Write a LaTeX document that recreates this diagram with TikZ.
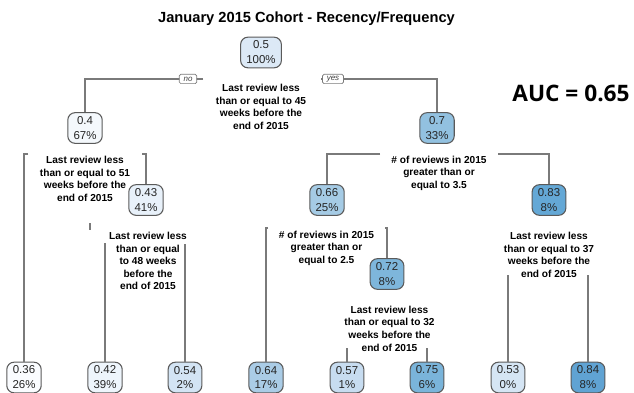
\documentclass[tikz,border=0pt]{standalone}
\usepackage{fontspec}
\setmainfont{Liberation Sans}
\newfontfamily\aucfont{Open Sans}
\definecolor{cR}{HTML}{DCE9F6}
\definecolor{cA}{HTML}{F4F8FC}
\definecolor{cB}{HTML}{92C1E0}
\definecolor{cC}{HTML}{E8F1FA}
\definecolor{cD}{HTML}{A5CBE5}
\definecolor{cE}{HTML}{64A8D6}
\definecolor{cF}{HTML}{7EB6DB}
\definecolor{cL1}{HTML}{FAFCFF}
\definecolor{cL2}{HTML}{EEF5FC}
\definecolor{cL3}{HTML}{D3E4F4}
\definecolor{cL4}{HTML}{AACCE6}
\definecolor{cL5}{HTML}{C7DCF0}
\definecolor{cL6}{HTML}{7AB4DA}
\definecolor{cL7}{HTML}{D5E5F4}
\definecolor{cL8}{HTML}{60A3D3}
\definecolor{edgegray}{HTML}{5A5A5A}
\definecolor{linegray}{HTML}{7A7A7A}
\tikzset{
  treenode/.style={draw=edgegray, line width=0.8pt, rounded corners=5.5pt,
    align=center, font=\fontsize{8.6}{11.2}\selectfont, text=black!85,
    inner xsep=4.3pt, inner ysep=1pt, minimum height=23pt},
  splitlabel/.style={align=center, font=\fontsize{7.6}{9.45}\selectfont\bfseries, inner sep=0pt},
  branch/.style={draw=linegray, line width=1.1pt},
  yesno/.style={draw=linegray, line width=0.5pt, fill=white, rounded corners=1.2pt,
    font=\fontsize{6}{6.5}\selectfont\itshape, text=black!75, inner xsep=3.2pt, inner ysep=0.5pt,
    minimum height=7pt}
}
\begin{document}
\begin{tikzpicture}[x=0.75pt,y=-0.75pt]
\useasboundingbox (0,0) rectangle (634,392);
\fill[white] (0,0) rectangle (634,392);

% title and AUC
\node[font=\fontsize{11}{13}\selectfont\bfseries] (title) at (306.5,19) {January 2015 Cohort - Recency/Frequency};
\node[font=\aucfont\fontsize{17}{20}\selectfont\bfseries] (auc) at (571,93) {AUC = 0.65};

% interior nodes
\node[treenode, fill=cR] (n1) at (261,52.5) {0.5\\100\%};
\node[treenode, fill=cA] (n2) at (85,128) {0.4\\67\%};
\node[treenode, fill=cB] (n3) at (437,128) {0.7\\33\%};
\node[treenode, fill=cC] (n5) at (146,200) {0.43\\41\%};
\node[treenode, fill=cD] (n6) at (327,200) {0.66\\25\%};
\node[treenode, fill=cE] (n7) at (549,200) {0.83\\8\%};
\node[treenode, fill=cF] (n13) at (387,274) {0.72\\8\%};

% leaves
\node[treenode, fill=cL1] (l4) at (24,377.5) {0.36\\26\%};
\node[treenode, fill=cL2] (l10) at (105,377.5) {0.42\\39\%};
\node[treenode, fill=cL3] (l11) at (185,377.5) {0.54\\2\%};
\node[treenode, fill=cL4] (l12) at (266,377.5) {0.64\\17\%};
\node[treenode, fill=cL5] (l26) at (347,377.5) {0.57\\1\%};
\node[treenode, fill=cL6] (l27) at (427,377.5) {0.75\\6\%};
\node[treenode, fill=cL7] (l14) at (508,377.5) {0.53\\0\%};
\node[treenode, fill=cL8] (l15) at (588,377.5) {0.84\\8\%};

% split labels
\node[splitlabel] (s1) at (261,107) {Last review less\\than or equal to 45\\weeks before the\\end of 2015};
\node[splitlabel] (s2) at (85,179) {Last review less\\than or equal to 51\\weeks before the\\end of 2015};
\node[splitlabel] (s3) at (439,173) {\# of reviews in 2015\\greater than or\\equal to 3.5};
\node[splitlabel] (s5) at (148,261) {Last review less\\than or equal\\to 48 weeks\\before the\\end of 2015};
\node[splitlabel] (s6) at (326.5,248) {\# of reviews in 2015\\greater than or\\equal to 2.5};
\node[splitlabel] (s7) at (549,255) {Last review less\\than or equal to 37\\weeks before the\\end of 2015};
\node[splitlabel] (s13) at (389.5,328.5) {Last review less\\than or equal to 32\\weeks before the\\end of 2015};

% connector end points
\coordinate (c1l) at (203,79);
\coordinate (c1r) at (321,79);
\coordinate (c2l) at (28,154);
\coordinate (c2r) at (142,154);
\coordinate (c3l) at (380,154);
\coordinate (c3r) at (498,154);
\coordinate (c5t) at (90,223);
\coordinate (c5b) at (90,230);
\coordinate (c5l) at (105,243);
\coordinate (c5r) at (185,244);
\coordinate (c6l) at (268,228);
\coordinate (c6r) at (385,228);
\coordinate (c7l) at (508,275);
\coordinate (c7r) at (588,275);
\coordinate (c13l) at (347,348);
\coordinate (c13r) at (427,348);

% connectors
\draw[branch] (c1l) -| (n2.north);
\draw[branch] (c1r) -| (n3.north);
\draw[branch] (c2l) -| (l4.north);
\draw[branch] (c2r) -| (n5.north);
\draw[branch] (c3l) -| (n6.north);
\draw[branch] (c3r) -| (n7.north);
\draw[branch] (c5t) -- (c5b);
\draw[branch] (c5l) -- (l10.north);
\draw[branch] (c5r) -- (l11.north);
\draw[branch] (c6l) -| (l12.north);
\draw[branch] (c6r) -| (n13.north);
\draw[branch] (c7l) -- (l14.north);
\draw[branch] (c7r) -- (l15.north);
\draw[branch] (c13l) -- (l26.north);
\draw[branch] (c13r) -- (l27.north);

% yes / no tags
\node[yesno] (no) at (188,79) {no};
\node[yesno] (yes) at (333,79) {yes};
\end{tikzpicture}
\end{document}
